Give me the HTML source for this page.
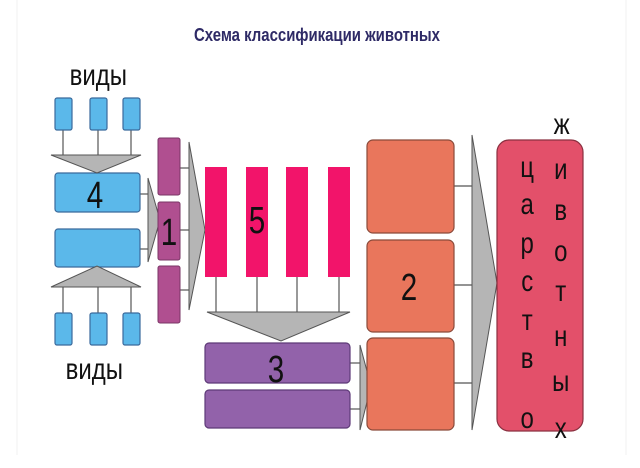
<!DOCTYPE html>
<html><head><meta charset="utf-8"><style>html,body{margin:0;padding:0;background:#fff}svg{display:block}</style></head>
<body>
<svg width="640" height="468" viewBox="0 0 640 468" xmlns="http://www.w3.org/2000/svg" font-family="Liberation Sans, DejaVu Sans, sans-serif">
<rect width="640" height="468" fill="#fff"/>
<line x1="17" y1="0" x2="17" y2="455" stroke="#f0f0f0"/>
<line x1="626" y1="0" x2="626" y2="455" stroke="#f0f0f0"/>
<text x="317" y="41" text-anchor="middle" font-size="18" font-weight="bold" fill="#2e2a66" textLength="246" lengthAdjust="spacingAndGlyphs">Схема классификации животных</text>
<g stroke="#555" stroke-width="1.2">
<line x1="63" y1="130" x2="63" y2="157"/><line x1="98" y1="130" x2="98" y2="157"/><line x1="131" y1="130" x2="131" y2="157"/>
<line x1="63" y1="287" x2="63" y2="313"/><line x1="98" y1="287" x2="98" y2="313"/><line x1="131" y1="287" x2="131" y2="313"/>
<line x1="140" y1="194" x2="149" y2="194"/><line x1="140" y1="249" x2="149" y2="249"/>
<line x1="180" y1="168" x2="190" y2="168"/><line x1="180" y1="230" x2="190" y2="230"/><line x1="180" y1="290" x2="190" y2="290"/>
<line x1="216" y1="277" x2="216" y2="313"/><line x1="257" y1="277" x2="257" y2="313"/><line x1="297" y1="277" x2="297" y2="313"/><line x1="339" y1="277" x2="339" y2="313"/>
<line x1="350" y1="363" x2="361" y2="363"/><line x1="350" y1="409" x2="361" y2="409"/>
<line x1="454" y1="186" x2="473" y2="186"/><line x1="454" y1="285" x2="473" y2="285"/><line x1="454" y1="383" x2="473" y2="383"/>
</g>
<g fill="#5bb8ea" stroke="#3b6a9c" stroke-width="1.2">
<rect x="55" y="98" width="17" height="32" rx="2"/><rect x="90" y="98" width="17" height="32" rx="2"/><rect x="123" y="98" width="17" height="32" rx="2"/>
<rect x="55" y="313" width="17" height="32" rx="2"/><rect x="90" y="313" width="17" height="32" rx="2"/><rect x="123" y="313" width="17" height="32" rx="2"/>
<rect x="55" y="173" width="85" height="39" rx="3"/><rect x="55" y="229" width="85" height="38" rx="3"/>
</g>
<g fill="#b5b5b5" stroke="#555" stroke-width="1">
<polygon points="51,155 141,155 97,173"/>
<polygon points="51,287 141,287 97,266"/>
<polygon points="148,178 160,220 148,262"/>
<polygon points="189,142 205,230 189,310"/>
<polygon points="207,312 350,312 281,341"/>
<polygon points="360,345 371,386 360,430"/>
<polygon points="472,135 497,283 472,430"/>
</g>
<g fill="#b04f90" stroke="#7a3566" stroke-width="1">
<rect x="158" y="138" width="22" height="57" rx="2"/><rect x="158" y="202" width="22" height="58" rx="2"/><rect x="158" y="266" width="22" height="57" rx="2"/>
</g>
<g fill="#f2146a">
<rect x="205" y="167" width="22" height="110"/><rect x="246" y="167" width="22" height="110"/><rect x="286" y="167" width="22" height="110"/><rect x="328" y="167" width="22" height="110"/>
</g>
<g fill="#9262aa" stroke="#5e3a78" stroke-width="1.2">
<rect x="205" y="343" width="145" height="40" rx="4"/><rect x="205" y="390" width="145" height="38" rx="4"/>
</g>
<g fill="#e9765c" stroke="#8a4a3a" stroke-width="1.2">
<rect x="367" y="140" width="87" height="93" rx="6"/><rect x="367" y="240" width="87" height="92" rx="6"/><rect x="367" y="338" width="87" height="92" rx="6"/>
</g>
<rect x="497" y="140" width="86" height="291" rx="12" fill="#e3506a" stroke="#8a3040" stroke-width="1.2"/>
<g transform="scale(0.78,1)" font-size="38" fill="#111" text-anchor="middle">
<text x="121.8" y="208">4</text><text x="216.7" y="245">1</text><text x="329.5" y="233">5</text><text x="353.8" y="382">3</text><text x="524.4" y="300">2</text>
</g>
<g transform="scale(0.8,1)" font-size="30" fill="#111">
<text x="87" y="85">виды</text><text x="82" y="379">виды</text>
</g>
<g transform="scale(0.8,1)" font-size="30" fill="#111" text-anchor="middle">
<text x="702" y="134">ж</text>
<text x="659" y="177">ц</text><text x="659" y="214">а</text><text x="659" y="253">р</text><text x="659" y="291">с</text><text x="659" y="330">т</text><text x="659" y="368">в</text><text x="659" y="428">о</text>
<text x="701" y="179">и</text><text x="701" y="220">в</text><text x="701" y="261">о</text><text x="701" y="301">т</text><text x="701" y="346">н</text><text x="701" y="391">ы</text><text x="701" y="438">х</text>
</g>
</svg>
</body></html>
